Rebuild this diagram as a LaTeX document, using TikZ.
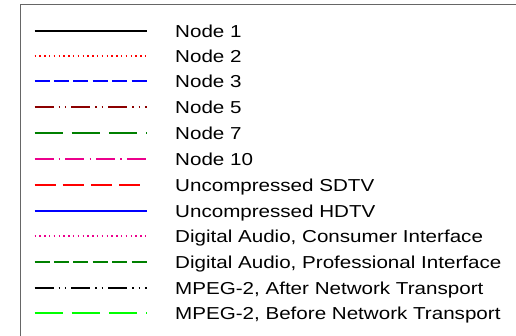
\documentclass[tikz,border=0pt]{standalone}
\usepackage{fontspec}
\setmainfont{Liberation Sans}
\newfontfamily\legfont[FakeStretch=1.19]{Liberation Sans}
\usetikzlibrary{positioning,calc}
\definecolor{framegray}{RGB}{102,102,102}
\definecolor{darkred}{RGB}{140,0,0}
\definecolor{darkgreen}{RGB}{0,128,0}

\tikzset{
  lgsolid/.style={line width=2pt},
  legtext/.style={anchor=base west, inner sep=0pt, font=\legfont\fontsize{17.3}{20}\selectfont},
  lgdot/.style={lgsolid, dash pattern=on 1.4pt off 3.4pt},
  lgshort/.style={lgsolid, dash pattern=on 15pt off 4.4pt},
  lgddot/.style={lgsolid, dash pattern=on 19pt off 5pt on 1.4pt off 5pt on 1.4pt off 5pt},
  lglong/.style={lgsolid, dash pattern=on 28pt off 9.2pt},
  lgdashdot/.style={lgsolid, dash pattern=on 19pt off 5.2pt on 1.4pt off 5.2pt},
  lgmid/.style={lgsolid, dash pattern=on 21pt off 7.2pt}
}

\begin{document}
\begin{tikzpicture}[x=1pt, y=1pt]

  \useasboundingbox (0,0) rectangle (516,336);

  % legend frame, runs past the right and bottom edges
  \draw[framegray, line width=1.5pt] (20.5,-5) -- (20.5,331.5) -- (520,331.5);

  % ---- legend entries: style / colour / row (px from top) / label ----
  \foreach \sty/\col/\row/\txt [count=\i] in {
      lgsolid/black/31/{Node 1},
      lgdot/red/56/{Node 2},
      lgshort/blue/81/{Node 3},
      lgddot/darkred/107/{Node 5},
      lglong/darkgreen/133/{Node 7},
      lgdashdot/magenta/159/{Node 10},
      lgmid/red/185/{Uncompressed SDTV},
      lgsolid/blue/211/{Uncompressed HDTV},
      lgdot/magenta/236/{Digital Audio, Consumer Interface},
      lgshort/darkgreen/262/{Digital Audio, Professional Interface},
      lgddot/black/288/{MPEG-2, After Network Transport},
      lglong/green/313/{MPEG-2, Before Network Transport}} {
    \coordinate (s\i) at (34.5, 336-\row);
    \coordinate (e\i) at (146.5, 336-\row);
    \draw[\sty, \col] (s\i) -- (e\i);
    \node[legtext] (t\i) at ($(s\i)+(140.5,-6.3)$) {\txt};
  }

\end{tikzpicture}
\end{document}
